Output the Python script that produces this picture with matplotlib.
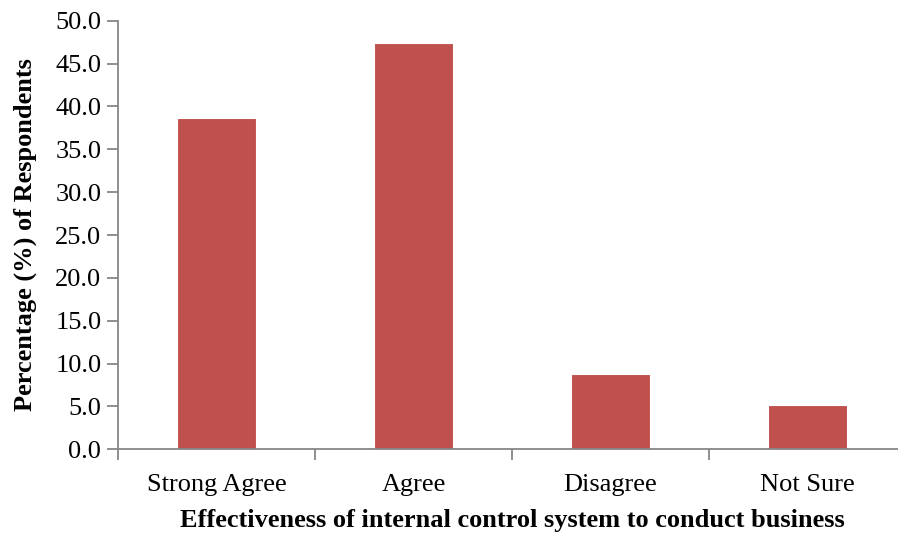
import matplotlib.pyplot as plt

categories = ['Strong Agree', 'Agree', 'Disagree', 'Not Sure']
percentages = [38.6, 47.4, 8.8, 5.2]
yticks = [0, 5, 10, 15, 20, 25, 30, 35, 40, 45, 50]

plt.rcParams['font.family'] = 'Liberation Serif'

W, H = 898, 536
fig = plt.figure(figsize=(W / 100, H / 100), dpi=100)
ax = fig.add_axes([118 / W, 1 - 449.3 / H, 788 / W, 428.6 / H])

ax.bar(range(len(categories)), percentages, width=0.4, color='#C0504D',
       edgecolor='white', linewidth=0.8)

ax.set_xlim(-0.5, len(categories) - 0.5)
ax.set_ylim(0, 50)
ax.set_yticks(yticks)
ax.set_yticklabels([f'{v:.1f}' for v in yticks])
ax.set_xticks([i + 0.5 for i in range(-1, len(categories))], minor=False)
ax.set_xticklabels([])
ax.set_xticks(range(len(categories)), minor=True)
ax.set_xticklabels(categories, minor=True)
ax.tick_params(axis='x', which='minor', length=0, labelsize=19, pad=18)
ax.tick_params(axis='x', which='major', length=8, color='#868686', width=1.3)
ax.tick_params(axis='y', length=8, color='#868686', width=1.3, labelsize=19, pad=4)

for side in ['top', 'right']:
    ax.spines[side].set_visible(False)
for side in ['left', 'bottom']:
    ax.spines[side].set_color('#868686')
    ax.spines[side].set_linewidth(1.3)

ax.set_xlabel('Effectiveness of internal control system to conduct business',
              fontsize=19, fontweight='bold', va='center')
ax.xaxis.set_label_coords((512 - 118) / 788, -(520 - 449.3) / 428.6)
ax.set_ylabel('Percentage (%) of Respondents', fontsize=19, fontweight='bold',
              va='center')
ax.yaxis.set_label_coords((25 - 118) / 788, 0.5)

fig.savefig('out.png', dpi=100)
